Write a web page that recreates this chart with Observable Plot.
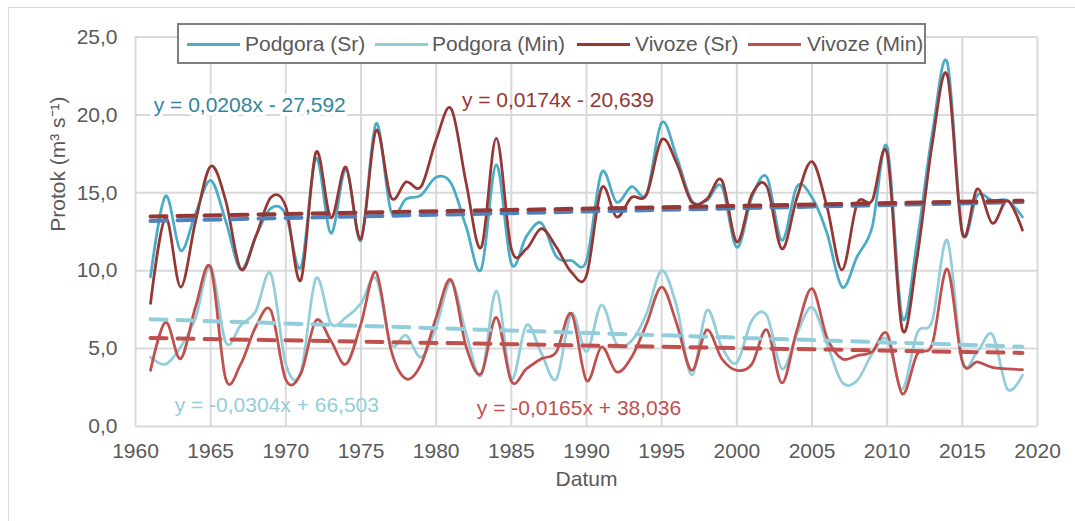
<!DOCTYPE html>
<html><head><meta charset="utf-8">
<script src="https://cdn.jsdelivr.net/npm/d3@7"></script>
<script src="https://cdn.jsdelivr.net/npm/@observablehq/plot@0.6"></script>
<style>
body{margin:0;background:#fff;font-family:"Liberation Sans",Arial,sans-serif;}
#wrap{position:relative;width:1075px;height:521px;overflow:hidden;background:#fff;}
#frame{position:absolute;left:8px;top:7px;width:1100px;height:600px;border:1px solid #d9d9d9;box-sizing:border-box;}
#chart{position:absolute;left:0;top:0;}
#legend{position:absolute;left:177px;top:23px;width:749px;height:41px;border:2px solid #7f7f7f;background:#fff;box-sizing:border-box;}
#legend .sw{position:absolute;top:18px;height:3px;}
#legend .tx{position:absolute;top:0;line-height:37px;font-size:21px;color:#595959;white-space:nowrap;}
</style></head>
<body>
<div id="wrap"><div id="frame"></div><div id="chart"></div><div id="legend"></div></div>
<script>
const years = d3.range(1961, 2020);
const podgoraSr = [9.6,14.8,11.3,13.7,15.8,13.2,10.1,12.2,14.0,13.6,
  10.2,17.2,12.4,16.5,11.95,19.45,13.8,14.6,14.85,16.0,
  15.6,12.8,10.1,16.8,10.45,12.2,13.05,10.9,10.65,10.65,
  16.3,14.4,15.4,14.95,19.5,17.3,14.5,14.5,15.4,11.5,
  14.7,16.0,11.95,15.4,14.7,12.4,8.95,10.9,12.8,17.95,
  7.0,11.95,18.8,23.35,12.5,14.85,14.5,14.5,13.45];
const podgoraMin = [4.45,4.0,5.1,7.0,10.3,5.4,6.5,7.4,9.8,4.0,
  3.5,9.5,6.6,7.0,7.9,9.5,5.3,5.85,4.45,6.4,
  9.3,5.95,3.3,8.7,3.06,6.5,4.7,3.06,7.25,4.8,
  7.8,5.3,5.5,7.25,10.0,7.7,3.3,7.45,5.1,4.1,
  6.8,7.1,3.7,5.95,7.65,5.3,2.85,2.95,4.65,5.6,
  2.4,6.0,6.8,11.95,4.25,4.8,5.9,2.4,3.3];
const vivozeSr = [7.9,13.4,8.95,13.2,16.7,14.5,10.1,12.2,14.7,14.1,
  9.4,17.6,13.4,16.65,12.05,19.0,14.7,15.7,15.4,18.4,
  20.4,15.6,11.5,18.5,11.4,11.4,12.7,11.5,9.9,9.7,
  15.3,13.45,14.7,14.9,18.4,16.9,14.4,14.6,15.8,11.85,
  14.9,15.4,11.4,14.7,17.0,14.1,10.05,14.3,14.5,17.5,
  6.25,10.9,18.15,22.55,12.4,15.25,13.05,14.5,12.6];
const vivozeMin = [3.6,6.7,4.35,7.7,10.2,3.06,4.0,6.4,7.45,3.0,
  3.4,6.8,5.5,4.0,6.6,9.9,4.9,3.06,4.0,7.0,
  9.4,5.1,3.4,7.0,2.9,3.7,4.35,4.8,7.25,2.95,
  5.1,3.5,4.45,6.6,8.95,6.6,3.6,6.2,4.35,3.6,
  4.0,6.2,2.8,6.2,8.85,5.7,4.35,4.55,4.8,5.95,
  2.1,4.65,5.3,10.1,4.15,4.15,3.8,3.7,3.65];

const seriesNames = ["Podgora (Sr)","Podgora (Min)","Vivoze (Sr)","Vivoze (Min)"];
const seriesColors = ["#4bacc6","#92cddc","#953735","#c0504d"];
const trendColors = ["#4f81bd","#92cddc","#953735","#c0504d"];
const trendSlopes = [0.0208,-0.0304,0.0174,-0.0165];
const trendIntercepts = [-27.592,66.503,-20.639,38.036];
const equationLabels = ["y = 0,0208x - 27,592","y = -0,0304x + 66,503","y = 0,0174x - 20,639","y = -0,0165x + 38,036"];
const equationColors = ["#31859c","#92cddc","#953735","#c0504d"];
const equationX = [1967.6,1969.4,1988.1,1989.5];
const equationY = [20.6,1.35,20.95,1.14];
const xTicks = [1960,1965,1970,1975,1980,1985,1990,1995,2000,2005,2010,2015,2020];
const yTicks = [0,5,10,15,20,25];

const seriesValues = [podgoraSr, podgoraMin, vivozeSr, vivozeMin];
const lineData = seriesValues.map(vals => years.map((yr,i)=>({x:yr,y:vals[i]})));
const trendData = trendSlopes.map((m,i)=>[years[0], years[years.length-1]].map(yr=>({x:yr,y:m*yr+trendIntercepts[i]})));

const font = '"Liberation Sans", Arial, sans-serif';
const marks = [
  Plot.gridX(xTicks,{stroke:"#d9d9d9",strokeOpacity:1,strokeWidth:2}),
  Plot.gridY(yTicks,{stroke:"#d9d9d9",strokeOpacity:1,strokeWidth:2}),
  Plot.axisX({ticks:xTicks,tickSize:0,tickPadding:17,tickFormat:d=>String(d),label:null,fill:"#595959"}),
  Plot.axisY({ticks:yTicks,tickSize:0,tickPadding:18,tickFormat:d=>d.toFixed(1).replace(".",","),label:null,fill:"#595959"}),
];
lineData.forEach((d,i)=>marks.push(Plot.line(d,{x:"x",y:"y",stroke:seriesColors[i],strokeWidth:2.75,curve:"cardinal"})));
[0,2,1,3].forEach(i=>marks.push(Plot.line(trendData[i],{x:"x",y:"y",stroke:trendColors[i],strokeWidth:4,strokeDasharray:"16,11"})));
equationLabels.forEach((t,i)=>marks.push(Plot.text([t],{x:()=>equationX[i],y:()=>equationY[i],text:d=>d,fill:equationColors[i],fontSize:21,stroke:i===0?"white":null,strokeWidth:8})));
marks.push(Plot.text(["Datum"],{frameAnchor:"bottom",dy:59,text:d=>d,fill:"#595959",fontSize:21}));
marks.push(Plot.text(["Protok (m³ s⁻¹)"],{frameAnchor:"left",dx:-77,rotate:-90,text:d=>d,fill:"#595959",fontSize:21}));

const chart = Plot.plot({
  width:1075, height:521,
  marginLeft:135, marginRight:38, marginTop:36.5, marginBottom:95,
  style:{fontFamily:font,fontSize:"21px",color:"#595959",background:"transparent",overflow:"visible"},
  x:{domain:[1960,2020]},
  y:{domain:[0,25]},
  marks
});
document.getElementById("chart").appendChild(chart);

const legend = document.getElementById("legend");
const swX = [8,196,398,569];
const txX = [66,253,456,628];
seriesNames.forEach((n,i)=>{
  const s=document.createElement("div");s.className="sw";s.style.left=swX[i]+"px";s.style.width="53px";s.style.background=seriesColors[i];legend.appendChild(s);
  const t=document.createElement("div");t.className="tx";t.style.left=txX[i]+"px";t.textContent=n;legend.appendChild(t);
});
</script>
</body></html>
